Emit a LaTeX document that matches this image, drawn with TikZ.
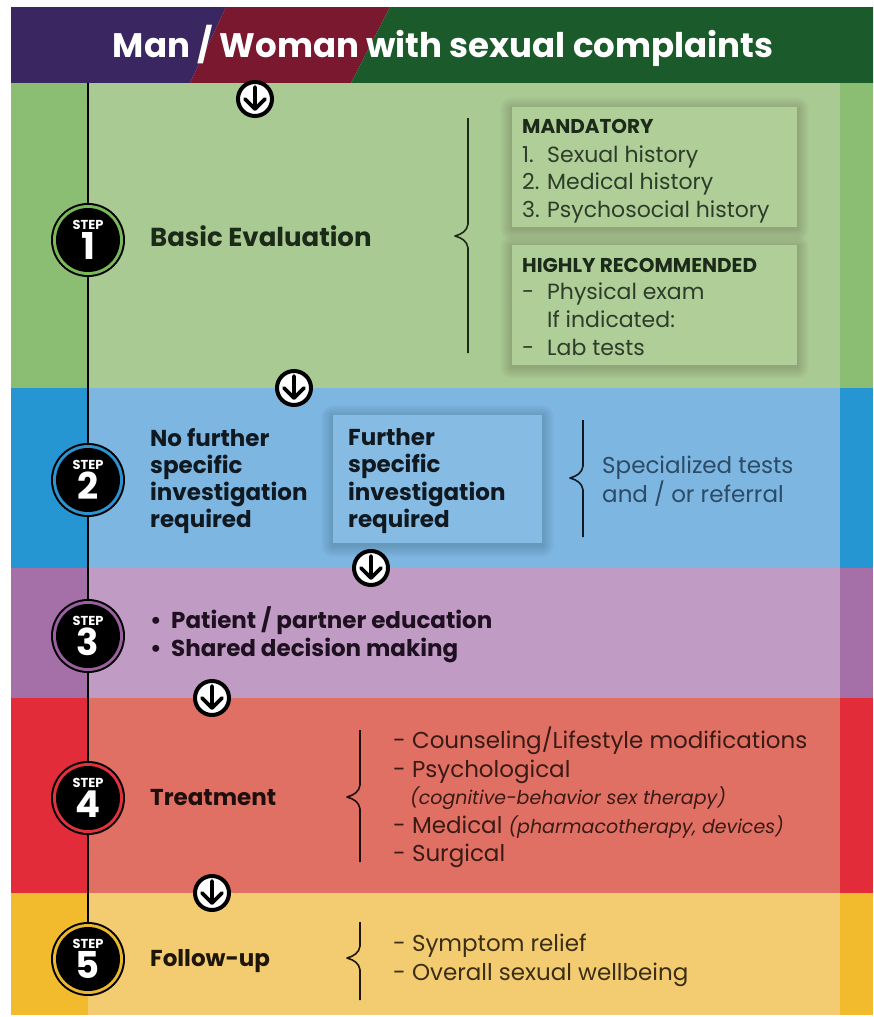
\documentclass[tikz,border=0pt]{standalone}
\usepackage{fontspec}
\setmainfont{Poppins}
\usetikzlibrary{calc}

% header colours
\definecolor{hdPurple}{HTML}{3A2661}
\definecolor{hdMaroon}{HTML}{7A1830}
\definecolor{hdGreen}{HTML}{1B5A2B}
% band colours: outer strip, inner panel, boxes, badge ring
\definecolor{cGreenOut}{HTML}{8BBE73}
\definecolor{cGreenIn}{HTML}{A9CA92}
\definecolor{cGreenBox}{HTML}{AFCE98}
\definecolor{cGreenRing}{HTML}{79B95A}
\definecolor{cBlueOut}{HTML}{2696D2}
\definecolor{cBlueIn}{HTML}{7DB6E1}
\definecolor{cBlueBox}{HTML}{86BCE4}
\definecolor{cBlueRing}{HTML}{2D93CF}
\definecolor{cViolOut}{HTML}{A570A8}
\definecolor{cViolIn}{HTML}{C09BC3}
\definecolor{cViolRing}{HTML}{9B5FA0}
\definecolor{cRedOut}{HTML}{E22C3A}
\definecolor{cRedIn}{HTML}{E07064}
\definecolor{cRedRing}{HTML}{E0323C}
\definecolor{cGoldOut}{HTML}{F2BB2E}
\definecolor{cGoldIn}{HTML}{F3CB70}
\definecolor{cGoldRing}{HTML}{E9B82C}
% text colours
\definecolor{tGreen}{HTML}{1C2A19}
\definecolor{tGreenL}{HTML}{2E3C2A}
\definecolor{tBlue}{HTML}{101820}
\definecolor{tBlueL}{HTML}{2B4B66}
\definecolor{tViol}{HTML}{1E1020}
\definecolor{tRed}{HTML}{1E0E0C}
\definecolor{tRedL}{HTML}{3A1A14}
\definecolor{tGold}{HTML}{1E1608}
\definecolor{tGoldL}{HTML}{3A2E14}

\tikzset{
  lbl/.style={inner sep=0pt, anchor=base west},
  titletxt/.style={inner sep=0pt, anchor=base, text=white, font=\fontsize{34}{40}\selectfont\bfseries},
  bigbold/.style={lbl, font=\fontsize{26}{30}\selectfont\bfseries},
  boxhead/.style={lbl, font=\fontsize{20}{24}\selectfont\bfseries},
  boxline/.style={lbl, font=\fontsize{22}{26}\selectfont},
  steptxt/.style={lbl, font=\fontsize{23}{28}\selectfont\bfseries},
  listtxt/.style={lbl, font=\fontsize{23}{27}\selectfont},
  notetxt/.style={lbl, font=\fontsize{19}{22}\selectfont\itshape},
  brace/.style={line width=1.6pt, line join=round},
  infobox/.style={anchor=north west, inner sep=0pt, draw=none},
  pics/stepbadge/.style 2 args={code={
    \fill[black] (0,0) circle[radius=37pt];
    \fill[#1] (0,0) circle[radius=35pt];
    \fill[black] (0,0) circle[radius=32pt];
    \node[inner sep=0pt, anchor=base, text=white,
      font=\fontsize{13}{14}\selectfont\bfseries] (-lbl) at (0,-11) {STEP};
    \node[inner sep=0pt, anchor=base, text=white,
      font=\fontsize{37}{37}\selectfont\bfseries] (-num) at (0,19) {#2};
  }},
  pics/downarrow/.style={code={
    \draw[line width=4pt, fill=white] (0,0) circle[radius=17pt];
    \draw[line width=3.6pt, line cap=round, line join=round]
      (0,-12) -- (0,10) (-10,0) -- (0,10) -- (10,0);
  }}
}
% soft, blurred shadow under a rectangle given by two corners
\newcommand\softshade[2]{%
  \foreach \d in {1,2,...,12}{%
    \fill[black, opacity=0.012, rounded corners=\d pt]
      ($#1+(-\d,-\d+2)$) rectangle ($#2+(\d,\d+2)$);}}

\begin{document}
\begin{tikzpicture}[x=1pt,y=-1pt]
\useasboundingbox (0,0) rectangle (874,1017);
\fill[white] (0,0) rectangle (874,1017);

% ---------- header ----------
\fill[hdPurple] (11,7) -- (226,7) -- (190,83) -- (11,83) -- cycle;
\fill[hdMaroon] (226,7) -- (390,7) -- (351,83) -- (190,83) -- cycle;
\fill[hdGreen] (390,7) -- (873,7) -- (873,83) -- (351,83) -- cycle;
\node[titletxt] (title) at (443,57) {Man / Woman with sexual complaints};

% ---------- bands ----------
\fill[cGreenOut] (11,83) rectangle (873,388);
\fill[cGreenIn] (88,83) rectangle (840,388);
\fill[cBlueOut] (11,388) rectangle (873,568);
\fill[cBlueIn] (88,388) rectangle (840,568);
\fill[cViolOut] (11,568) rectangle (873,698);
\fill[cViolIn] (88,568) rectangle (840,698);
\fill[cRedOut] (11,698) rectangle (873,893);
\fill[cRedIn] (88,698) rectangle (840,893);
\fill[cGoldOut] (11,893) rectangle (873,1015);
\fill[cGoldIn] (88,893) rectangle (840,1015);

% ---------- timeline ----------
\coordinate (top) at (88,83);
\coordinate (b5c) at (88,959);
\draw[line width=1.5pt] (top) -- (b5c);

% ---------- step 1 ----------
\softshade{(512,107)}{(797,227)}
\softshade{(512,245)}{(797,365)}
\node[infobox, fill=cGreenBox, minimum width=285pt, minimum height=120pt] (mandbox) at (512,107) {};
\node[infobox, fill=cGreenBox, minimum width=285pt, minimum height=120pt] (recbox) at (512,245) {};
\draw[brace, draw=tGreen] (468,118) -- (468,224)
  .. controls (467,231) and (462,234) .. (455,236)
  .. controls (462,238) and (467,241) .. (468,248) -- (468,353);
\node[bigbold, text=tGreen] (basic) at (150,246) {Basic Evaluation};
\node[boxhead, text=tGreen] (mand) at (522,133) {MANDATORY};
\node[boxline, text=tGreenL] (m1) at (522,162) {\makebox[25pt][l]{1.}Sexual history};
\node[boxline, text=tGreenL] (m2) at (522,189) {\makebox[25pt][l]{2.}Medical history};
\node[boxline, text=tGreenL] (m3) at (522,217) {\makebox[25pt][l]{3.}Psychosocial history};
\node[boxhead, text=tGreen] (rec) at (522,272) {HIGHLY RECOMMENDED};
\node[boxline, text=tGreenL] (r1) at (522,299) {\makebox[25pt][l]{-}Physical exam};
\node[boxline, text=tGreenL] (r2) at (547,327) {If indicated:};
\node[boxline, text=tGreenL] (r3) at (522,355) {\makebox[25pt][l]{-}Lab tests};

% ---------- step 2 ----------
\softshade{(333,415)}{(542,543)}
\node[infobox, fill=cBlueBox, minimum width=209pt, minimum height=128pt] (furtherbox) at (333,415) {};
\draw[brace, draw=tBlue] (583,420) -- (583,466)
  .. controls (582,473) and (577,476) .. (570,478)
  .. controls (577,480) and (582,483) .. (583,490) -- (583,537);
\node[steptxt, text=tBlue] (nf1) at (150,446) {No further};
\node[steptxt, text=tBlue] (nf2) at (150,473) {specific};
\node[steptxt, text=tBlue] (nf3) at (150,500) {investigation};
\node[steptxt, text=tBlue] (nf4) at (150,527) {required};
\node[steptxt, text=tBlue] (f1) at (348,445) {Further};
\node[steptxt, text=tBlue] (f2) at (348,472) {specific};
\node[steptxt, text=tBlue] (f3) at (348,500) {investigation};
\node[steptxt, text=tBlue] (f4) at (348,527) {required};
\node[listtxt, text=tBlueL] (sp1) at (602,473) {Specialized tests};
\node[listtxt, text=tBlueL] (sp2) at (602,502) {and / or referral};

% ---------- step 3 ----------
\node[steptxt, text=tViol] (e1) at (150,628) {\makebox[21pt][l]{•}Patient / partner education};
\node[steptxt, text=tViol] (e2) at (150,656) {\makebox[21pt][l]{•}Shared decision making};

% ---------- step 4 ----------
\draw[brace, draw=tRed] (360,730) -- (360,785)
  .. controls (359,792) and (354,795) .. (347,797)
  .. controls (354,799) and (359,802) .. (360,809) -- (360,862);
\node[steptxt, text=tRed] (treat) at (150,805) {Treatment};
\node[listtxt, text=tRedL] (t1) at (393,748) {- Counseling/Lifestyle modifications};
\node[listtxt, text=tRedL] (t2) at (393,777) {- Psychological};
\node[notetxt, text=tRedL] (t2n) at (410,804) {(cognitive-behavior sex therapy)};
\node[listtxt, text=tRedL] (t3) at (393,833) {- Medical {\fontsize{19}{22}\selectfont\itshape(pharmacotherapy, devices)}};
\node[listtxt, text=tRedL] (t4) at (393,861) {- Surgical};

% ---------- step 5 ----------
\draw[brace, draw=tGold] (360,922) -- (360,946)
  .. controls (359,953) and (354,956) .. (347,958)
  .. controls (354,960) and (359,963) .. (360,970) -- (360,1000);
\node[steptxt, text=tGold] (follow) at (150,966) {Follow-up};
\node[listtxt, text=tGoldL] (y1) at (393,951) {- Symptom relief};
\node[listtxt, text=tGoldL] (y2) at (393,980) {- Overall sexual wellbeing};

% ---------- step badges ----------
\pic (b1) at (88,240) {stepbadge={cGreenRing}{1}};
\pic (b2) at (88,480) {stepbadge={cBlueRing}{2}};
\pic (b3) at (88,636) {stepbadge={cViolRing}{3}};
\pic (b4) at (88,798) {stepbadge={cRedRing}{4}};
\pic (b5) at (88,959) {stepbadge={cGoldRing}{5}};

% ---------- flow arrows ----------
\pic (a1) at (255,99) {downarrow};
\pic (a2) at (294,388) {downarrow};
\pic (a3) at (371,568) {downarrow};
\pic (a4) at (212,698) {downarrow};
\pic (a5) at (212,893) {downarrow};
\end{tikzpicture}
\end{document}
